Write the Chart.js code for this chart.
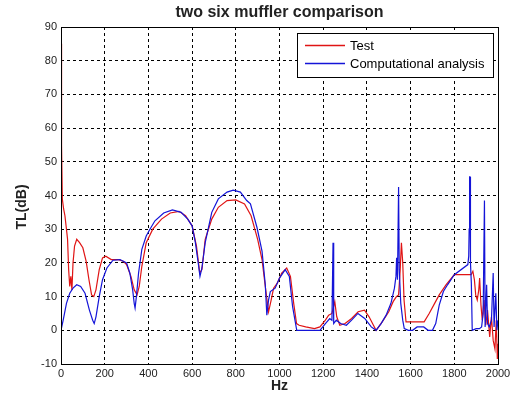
<!DOCTYPE html>
<html>
<head>
<meta charset="utf-8">
<script src="https://cdn.jsdelivr.net/npm/chart.js@4.4.1/dist/chart.umd.min.js"></script>
<style>
  body { margin: 0; background: #fff; }
  canvas { display: block; }
</style>
</head>
<body>
<canvas id="tlChart" width="520" height="407"></canvas>
<script>
// tick labels
let xTicks = [0, 200, 400, 600, 800, 1000, 1200, 1400, 1600, 1800, 2000];
let yTicks = [-10, 0, 10, 20, 30, 40, 50, 60, 70, 80, 90];

let chartTitle = 'two six muffler comparison';
let yTitle = 'TL(dB)';
let xTitle = 'Hz';

// Test (measured)
let testHz = [0, 2, 3, 6, 12, 18, 25, 30, 35, 40, 45, 50, 55, 62, 72, 85, 100, 115, 128, 140, 150, 160, 175, 190, 205, 230, 260, 285, 300, 320, 335, 348, 358, 370, 390, 420, 460, 500, 540, 570, 600, 620, 635, 645, 660, 690, 720, 760, 800, 840, 870, 900, 920, 935, 950, 962, 973, 990, 1010, 1033, 1050, 1065, 1078, 1090, 1120, 1160, 1185, 1210, 1225, 1240, 1253, 1262, 1276, 1300, 1330, 1360, 1389, 1410, 1430, 1442, 1470, 1500, 1520, 1535, 1545, 1552, 1558, 1564, 1570, 1579, 1600, 1630, 1662, 1685, 1710, 1731, 1762, 1800, 1840, 1877, 1885, 1892, 1898, 1905, 1912, 1916, 1922, 1928, 1936, 1944, 1952, 1962, 1970, 1978, 1986, 1992, 1997, 2000];
let testDb = [85, 40, 55, 39, 36, 34, 30, 27, 18, 13, 16, 12, 20, 25, 27, 26, 24.5, 20.5, 15, 10.5, 10, 12, 18, 21.5, 22, 21, 21, 20.5, 19.5, 16, 12, 10.5, 13, 19, 26, 30, 33, 34.8, 35.3, 34, 31, 25, 17, 18, 27, 33, 36.5, 38.5, 38.7, 37.5, 34, 27, 21, 13, 5.5, 9, 12.5, 14, 17, 18.5, 16, 8, 2, 1.5, 1, 0.5, 1, 3, 4.5, 5, 8.5, 4, 1.5, 2, 3.5, 5.5, 6, 4, 1.5, 0, 2.5, 5.5, 8.5, 10, 10.5, 17.5, 26, 20, 9, 2.5, 2.5, 2.5, 2.5, 5, 8, 10.5, 13.5, 16.5, 16.5, 16.5, 17.5, 15, 10.5, 9, 12, 15.5, 7.5, 3, 9, 1.5, 6, -2, 4, -3, -5.5, 3, -8.5, -4];

// Computational analysis
let compHz = [0, 10, 25, 40, 55, 72, 90, 110, 130, 145, 152, 160, 175, 190, 210, 238, 270, 300, 315, 328, 335, 339, 345, 355, 370, 390, 407, 430, 470, 510, 550, 580, 600, 615, 628, 636, 645, 660, 690, 720, 760, 788, 821, 850, 867, 897, 920, 935, 942, 950, 958, 980, 1000, 1026, 1045, 1060, 1079, 1120, 1160, 1185, 1210, 1230, 1240, 1245, 1248, 1260, 1280, 1306, 1330, 1359, 1390, 1420, 1442, 1465, 1488, 1510, 1526, 1533, 1536, 1540, 1545, 1548, 1555, 1564, 1571, 1590, 1609, 1630, 1660, 1680, 1700, 1715, 1731, 1750, 1769, 1800, 1862, 1866, 1868, 1870, 1872, 1874, 1878, 1882, 1900, 1915, 1925, 1932, 1938, 1941, 1948, 1952, 1960, 1970, 1978, 1982, 1990, 1995, 2000];
let compDb = [0, 3, 8, 11, 12.5, 13.5, 13, 11, 6, 3, 2, 4, 10, 15, 18.5, 20.8, 21, 20, 17, 12, 8, 6.6, 10, 17, 24, 28, 30, 32.5, 34.8, 35.7, 35, 33, 31, 26, 20, 16, 18.5, 26, 35, 39, 41, 41.6, 41, 38.5, 37.5, 30.5, 23.5, 13.5, 4.5, 9, 11.5, 12.5, 15.5, 18, 16, 7, 0, 0, 0, 0, 2, 3.5, 3, 26, 2, 3, 2, 1.5, 3, 5, 3.5, 1, 0, 2, 4.5, 8, 12.5, 16, 21.5, 15, 42.5, 18, 8, 3, 0.5, 0, 0, 1, 1, 0, 0, 2, 7.5, 11.5, 13.5, 16.5, 19.5, 22, 30, 45.5, 45.5, 20, 14, 0, 0.5, 0.5, 1, 5, 38.5, 1, 13.5, 2, 1, 3, 17, 1, 11, 0, 3];

let font = "'Liberation Sans', Arial, sans-serif";

function toPoints(xs, ys){
    return xs.map((x, i) => ({x: x, y: ys[i]}));
}

// black box round the plot area, like matlab axes
const frame = {
    id: 'frame',
    afterDatasetsDraw(chart){
        const {ctx, chartArea: a} = chart;
        ctx.save();
        ctx.strokeStyle = '#000';
        ctx.lineWidth = 1;
        ctx.strokeRect(Math.round(a.left) + 0.5, Math.round(a.top) + 0.5, Math.round(a.right - a.left), Math.round(a.bottom - a.top));
        ctx.restore();
    }
};

// title over the axes and the y label
const labels = {
    id: 'labels',
    afterDraw(chart){
        const ctx = chart.ctx;
        const a = chart.chartArea;
        ctx.save();
        ctx.fillStyle = '#222';
        ctx.textAlign = 'center';
        ctx.textBaseline = 'middle';
        ctx.font = 'bold 16px ' + font;
        ctx.fillText(chartTitle, (a.left + a.right) / 2, 12.5);
        ctx.translate(22, 207);
        ctx.rotate(-Math.PI / 2);
        ctx.font = 'bold 14px ' + font;
        ctx.fillText(yTitle, 0, 0);
        ctx.restore();
    }
};

// legend box in the top right corner of the axes
const boxLegend = {
    id: 'boxLegend',
    afterDraw(chart){
        const ctx = chart.ctx;
        const a = chart.chartArea;
        const x0 = a.right - 201, y0 = a.top + 6, w = 196, h = 44;
        ctx.save();
        ctx.fillStyle = '#fff';
        ctx.fillRect(x0, y0, w, h);
        ctx.strokeStyle = '#000';
        ctx.lineWidth = 1;
        ctx.strokeRect(x0 + 0.5, y0 + 0.5, w, h);
        ctx.font = '13px ' + font;
        ctx.textBaseline = 'middle';
        chart.data.datasets.forEach((ds, i) => {
            let y = y0 + 12 + i * 18;
            ctx.strokeStyle = ds.borderColor;
            ctx.lineWidth = 1.3;
            ctx.beginPath();
            ctx.moveTo(x0 + 8, y + 0.5);
            ctx.lineTo(x0 + 48, y + 0.5);
            ctx.stroke();
            ctx.fillStyle = '#000';
            ctx.fillText(ds.label, x0 + 53, y + 1);
        });
        ctx.restore();
    }
};

new Chart(document.getElementById('tlChart'), {
    type: 'scatter',
    data: {
        datasets: [{
            label: 'Test',
            data: toPoints(testHz, testDb),
            showLine: true,
            borderColor: '#e01414',
            borderWidth: 1.2,
            pointRadius: 0,
            tension: 0,
            order: 1
        }, {
            label: 'Computational analysis',
            data: toPoints(compHz, compDb),
            showLine: true,
            borderColor: '#1414d8',
            borderWidth: 1.2,
            pointRadius: 0,
            tension: 0,
            order: 0
        }]
    },
    options: {
        responsive: false,
        animation: false,
        devicePixelRatio: 1,
        layout: { padding: { left: 0, right: 22, top: 27, bottom: 0 } },
        scales: {
            x: {
                type: 'linear',
                min: 0,
                max: 2000,
                afterBuildTicks: (scale) => { scale.ticks = xTicks.map(v => ({value: v})); },
                afterFit: (scale) => { scale.height = 43; },
                ticks: { color: '#222', font: { family: font, size: 11 }, padding: 3, maxRotation: 0, callback: (v) => String(v) },
                grid: { color: '#000', lineWidth: 1, drawTicks: false },
                border: { display: false, dash: [3, 3] },
                title: { display: true, text: xTitle, color: '#222', font: { family: font, size: 14, weight: 'bold' }, padding: { top: 0, bottom: 12 } }
            },
            y: {
                min: -10,
                max: 90,
                afterBuildTicks: (scale) => { scale.ticks = yTicks.map(v => ({value: v})); },
                afterFit: (scale) => { scale.width = 61; },
                ticks: { color: '#222', font: { family: font, size: 11 }, padding: 4, callback: (v) => String(v) },
                grid: { color: '#000', lineWidth: 1, drawTicks: false },
                border: { display: false, dash: [3, 3] }
            }
        },
        plugins: {
            legend: { display: false },
            tooltip: { enabled: false },
            title: { display: false }
        }
    },
    plugins: [frame, labels, boxLegend]
});
</script>
</body>
</html>
